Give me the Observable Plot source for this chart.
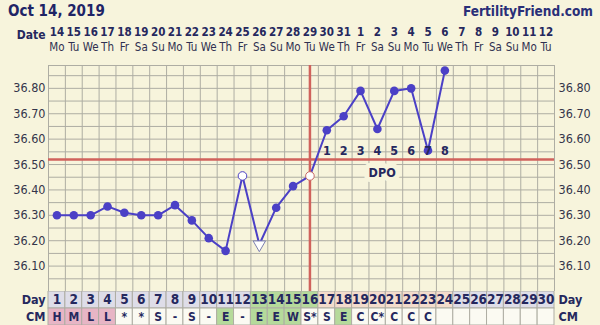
<!DOCTYPE html>
<html><head><meta charset="utf-8">
<script src="https://cdn.jsdelivr.net/npm/d3@7"></script>
<script src="https://cdn.jsdelivr.net/npm/@observablehq/plot@0.6"></script>
<style>
html,body{margin:0;padding:0;background:#f7f4dc;}
#wrap{width:600px;height:325px;position:relative;overflow:hidden;background:#f7f4dc;font-family:"DejaVu Sans Condensed","DejaVu Sans",Verdana,sans-serif;}
#head{height:22px;position:relative;}
#title{position:absolute;left:8px;top:2px;font-weight:bold;font-size:15px;color:#1f2466;}
#brand{position:absolute;right:7px;top:3px;font-weight:bold;font-size:13.5px;color:#2a2f78;}
svg{display:block;}
</style></head>
<body><div id="wrap"><div id="head"><div id="title">Oct 14, 2019</div><div id="brand">FertilityFriend.com</div></div></div>
<script>
// ---- data ----
const cycleDays = [1,2,3,4,5,6,7,8,9,10,11,12,13,14,15,16,17,18,19,20,21,22,23,24,25,26,27,28,29,30];
const dateLabels = ["14","15","16","17","18","19","20","21","22","23","24","25","26","27","28","29","30","31","1","2","3","4","5","6","7","8","9","10","11","12"];
const weekdays = ["Mo","Tu","We","Th","Fr","Sa","Su","Mo","Tu","We","Th","Fr","Sa","Su","Mo","Tu","We","Th","Fr","Sa","Su","Mo","Tu","We","Th","Fr","Sa","Su","Mo","Tu"];
const temps = [36.30,36.30,36.30,36.335,36.31,36.30,36.30,36.34,36.28,36.21,36.16,36.455,36.185,36.33,36.415,36.455,36.635,36.69,36.79,36.64,36.79,36.80,36.555,36.87];
const markerTypes = ["dot","dot","dot","dot","dot","dot","dot","dot","dot","dot","dot","open","tri","dot","dot","ov","dot","dot","dot","dot","dot","dot","dot","dot"];
const dpoLabels = ["1","2","3","4","5","6","7","8"];
const dpoDays = [17,18,19,20,21,22,23,24];
const coverline = 36.52;
const ovulationDay = 16;
const cmLabels = ["H","M","L","L","*","*","S","-","S","-","E","-","E","E","W","S*","S","E","C","C*","C","C","C","","","","","","",""];
const cmTypes = ["m","m","m","m","n","n","n","n","n","n","f","n","f","f","f","n","n","f","n","n","n","n","n","n","n","n","n","n","n","n"];
const phase = ["a","a","a","a","a","a","a","a","a","a","a","a","f","f","f","f","l","l","l","l","l","l","l","l","a","a","a","a","a","a"];
const yTicks = [36.1,36.2,36.3,36.4,36.5,36.6,36.7,36.8];

// ---- styles ----
const BG = "#f7f4dc", GRID = "#aeada3", RED = "#d0625c", BLUE = "#4b40c6", NAVY = "#25285e";
const FONT = "'DejaVu Sans Condensed', 'DejaVu Sans', Verdana, sans-serif";
const ML = 48, MR = 46;
const phaseColor = {a:"#dedde8", f:"#b5da9b", l:"#f3dccc"};
const cmColor = {m:"#e7b5c5", f:"#b5da9b", n:"#fbfaf2"};
const xOpt = {domain:[0.5,30.5], axis:null};
const wrap = document.getElementById("wrap");

// header date rows
const hdr = cycleDays.flatMap((d,i)=>[{day:d,row:"num",t:dateLabels[i]},{day:d,row:"dow",t:weekdays[i]}]);
wrap.appendChild(Plot.plot({
  width:600, height:40, marginLeft:ML, marginRight:MR, marginTop:0, marginBottom:0,
  x:xOpt, y:{type:"point", domain:["num","dow"], range:[10,25], padding:0, axis:null},
  style:{background:"transparent", fontFamily:FONT},
  marks:[
    Plot.text(hdr.filter(d=>d.row==="num"),{x:"day",y:"row",text:"t",fontWeight:"bold",fontSize:11.5,fill:NAVY}),
    Plot.text(hdr.filter(d=>d.row==="dow"),{x:"day",y:"row",text:"t",fontSize:11.5,fill:"#2f3050"}),
    Plot.text(["Date"],{frameAnchor:"left",y:()=>"num",dy:3,dx:-3,textAnchor:"end",fontWeight:"bold",fontSize:12,fill:NAVY})
  ]
}));

// main chart
const pts = temps.map((t,i)=>({day:cycleDays[i], t, m:markerTypes[i]}));
const gridX = cycleDays.map(d=>d-0.5).concat([cycleDays[cycleDays.length-1]+0.5]);
const gridY = d3.range(36.0, 36.88, 0.05);
const dpo = dpoDays.map((d,i)=>({day:d, t:dpoLabels[i]}));
wrap.appendChild(Plot.plot({
  width:600, height:229, marginLeft:ML, marginRight:MR, marginTop:3, marginBottom:0,
  x:xOpt, y:{domain:[36.0,36.89], axis:null},
  style:{background:"transparent", fontFamily:FONT},
  marks:[
    Plot.ruleY(gridY,{stroke:GRID}),
    Plot.ruleX(gridX,{stroke:GRID}),
    Plot.frame({stroke:GRID}),
    Plot.axisY(yTicks,{anchor:"left",tickSize:0,tickPadding:3,tickFormat:d=>d.toFixed(2),fontSize:12.5,fill:"#34354a",label:null}),
    Plot.axisY(yTicks,{anchor:"right",tickSize:0,tickPadding:4,tickFormat:d=>d.toFixed(2),fontSize:12.5,fill:"#34354a",label:null}),
    Plot.ruleY([coverline],{stroke:RED,strokeWidth:2.5}),
    Plot.ruleX([ovulationDay],{stroke:RED,strokeWidth:2.5}),
    Plot.line(pts,{x:"day",y:"t",stroke:BLUE,strokeWidth:2}),
    Plot.dot(pts.filter(d=>d.m==="dot"),{x:"day",y:"t",r:4.3,fill:BLUE}),
    Plot.dot(pts.filter(d=>d.m==="open"),{x:"day",y:"t",r:4.3,fill:"white",stroke:BLUE,strokeWidth:1}),
    Plot.dot(pts.filter(d=>d.m==="ov"),{x:"day",y:"t",r:4.3,fill:"white",stroke:"#c86a66",strokeWidth:1}),
    Plot.dot(pts.filter(d=>d.m==="tri"),{x:"day",y:"t",symbol:"triangle",rotate:180,r:4.6,fill:"white",stroke:"#7b7fb0",strokeWidth:1}),
    Plot.text(dpo,{x:"day",y:()=>36.555,text:"t",fontWeight:"bold",fontSize:12.5,fill:NAVY}),
    Plot.text(["DPO"],{x:()=>20.28,y:()=>36.466,text:d=>d,fontWeight:"bold",fontSize:12.5,fill:NAVY,stroke:BG,strokeWidth:10,paintOrder:"stroke"})
  ]
}));

// bottom Day / CM rows
const rows = cycleDays.flatMap((d,i)=>[
  {day:d,row:"Day",t:String(d),c:phaseColor[phase[i]]},
  {day:d,row:"CM",t:cmLabels[i],c:cmColor[cmTypes[i]]}
]);
wrap.appendChild(Plot.plot({
  width:600, height:34, marginLeft:ML, marginRight:MR, marginTop:0, marginBottom:0,
  x:xOpt, y:{type:"band", domain:["Day","CM"], padding:0, axis:null},
  style:{background:"transparent", fontFamily:FONT},
  marks:[
    Plot.barX(rows,{x1:d=>d.day-0.5,x2:d=>d.day+0.5,y:"row",fill:"c",stroke:GRID,inset:0}),
    Plot.text(rows.filter(d=>d.row==="Day"),{x:"day",y:"row",text:"t",fontWeight:"bold",fontSize:13.5,fill:NAVY}),
    Plot.text(rows.filter(d=>d.row==="CM"),{x:"day",y:"row",text:"t",fontWeight:"bold",fontSize:12,fill:NAVY}),
    Plot.axisY(["Day","CM"],{anchor:"left",tickSize:0,tickPadding:3,fontWeight:"bold",fontSize:12.5,fill:NAVY,label:null}),
    Plot.axisY(["Day","CM"],{anchor:"right",tickSize:0,tickPadding:4,fontWeight:"bold",fontSize:12.5,fill:NAVY,label:null})
  ]
}));
</script></body></html>
